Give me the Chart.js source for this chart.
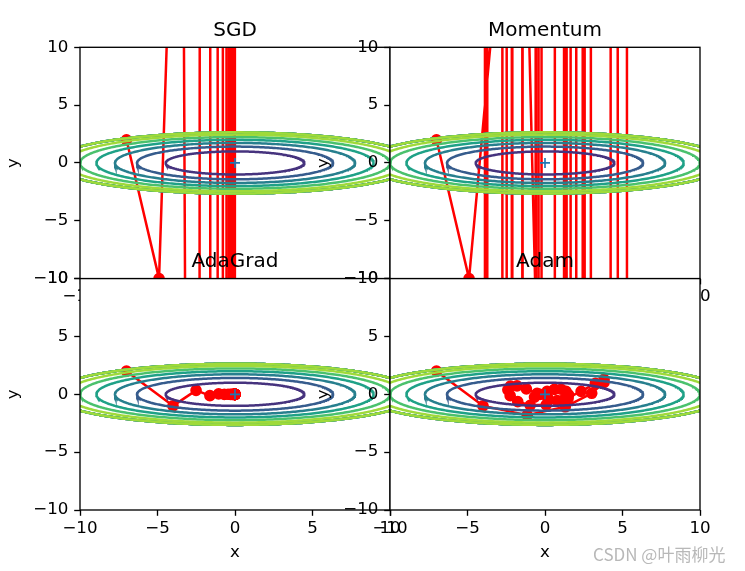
<!DOCTYPE html>
<html>
<head>
<meta charset="utf-8">
<script src="https://cdn.jsdelivr.net/npm/chart.js@4.4.1/dist/chart.umd.min.js"></script>
<style>
    body { margin: 0; background: #ffffff; }
    #wrap { position: relative; width: 745px; height: 571px; overflow: hidden; }
    #wrap canvas { position: absolute; left: 0; top: 0; }
    #mark { position: absolute; left: 593px; top: 541px; font: 17px "Noto Sans CJK SC", sans-serif; color: #b8b8b8; white-space: nowrap; }
</style>
</head>
<body>
<div id="wrap">
    <canvas id="sgd" width="745" height="571"></canvas>
    <canvas id="momentum" width="745" height="571"></canvas>
    <canvas id="adagrad" width="745" height="571"></canvas>
    <canvas id="adam" width="745" height="571"></canvas>
    <div id="mark">CSDN @叶雨柳光</div>
</div>
<script>
// trajectories (30 steps from (-7, 2))
const sgdX = [-7.0, -4.9, -3.43, -2.401, -1.6807, -1.1765, -0.8235, -0.5765, -0.4035, -0.2825,
    -0.1977, -0.1384, -0.0969, -0.0678, -0.0475, -0.0332, -0.0233, -0.0163, -0.0114, -0.0080,
    -0.0056, -0.0039, -0.0027, -0.0019, -0.0013, -0.0009, -0.0007, -0.0005, -0.0003, -0.0002];
const sgdY = [2, -10, 50, -250, 1250, -6250, 31250, -1.563e5, 7.813e5, -3.906e6,
    1.953e7, -9.766e7, 4.883e8, -2.441e9, 1.221e10, -6.104e10, 3.052e11, -1.526e12, 7.629e12, -3.815e13,
    1.907e14, -9.537e14, 4.768e15, -2.384e16, 1.192e17, -5.960e17, 2.980e18, -1.490e19, 7.451e19, -3.725e20];

const momentumX = [-7.0, -4.9, -1.54, 1.946, 4.4996, 5.448, 4.6671, 2.5642, -0.0977, -2.4641,
    -3.8546, -3.9497, -2.8504, -1.0059, 0.9559, 2.4348, 3.0353, 2.6652, 1.5325, 0.0534,
    -1.2939, -2.1182, -2.2247, -1.6531, -0.6427, 0.4594, 1.3135, 1.6882, 1.5189, 0.9109];
const momentumY = [2, -10, 39.2, -151.72, 586.772, -2269.2172, 8775.6957, -33938.057, 1.312e5, -5.076e5,
    1.963e6, -7.591e6, 2.936e7, -1.135e8, 4.391e8, -1.698e9, 6.567e9, -2.539e10, 9.821e10, -3.798e11,
    1.469e12, -5.680e12, 2.197e13, -8.495e13, 3.285e14, -1.271e15, 4.913e15, -1.900e16, 7.349e16, -2.842e17];

const adagradX = [-7.0, -4.0, -2.5116, -1.6193, -1.0543, -0.6892, -0.4513, -0.2957, -0.1938, -0.1270,
    -0.0833, -0.0546, -0.0358, -0.0235, -0.0154, -0.0101, -0.0066, -0.0043, -0.0028, -0.0019,
    -0.0012, -0.0008, -0.0005, -0.0003, -0.0002, -0.0001, -0.0001, -0.0001, 0, 0];
const adagradY = [2, -1, 0.3416, -0.1115, 0.0362, -0.0117, 0.0038, -0.0012, 0.0004, -0.0001,
    0, 0, 0, 0, 0, 0, 0, 0, 0, 0,
    0, 0, 0, 0, 0, 0, 0, 0, 0, 0];

const adamX = [-7.0, -4.0, -1.1469, 1.3067, 3.0145, 3.8073, 3.8098, 3.2489, 2.3291, 1.2211,
    0.0782, -0.9563, -1.7587, -2.247, -2.3952, -2.2282, -1.8049, -1.2036, -0.5117, 0.1801,
    0.7866, 1.2375, 1.4879, 1.5236, 1.3598, 1.0356, 0.606, 0.1351, -0.312, -0.677];
const adamY = [2, -1, -1.799, -1.0781, 0.0883, 1.0266, 1.2952, 0.9471, 0.26, -0.454,
    -0.9048, -0.9475, -0.6303, -0.1151, 0.3929, 0.7044, 0.7232, 0.4761, 0.0791, -0.3108,
    -0.5488, -0.5589, -0.3592, -0.0429, 0.2616, 0.4377, 0.4277, 0.2518, -0.0074, -0.2407];

// contours of f(x, y) = x^2/20 + y^2, values above 7 masked to 0
const contourLevels = [1, 2, 3, 4, 5, 6];
const contourColors = ['#46337e', '#365c8d', '#277f8e', '#1fa187', '#4ac16d', '#9fda3a'];
const maskLevel = 7;
const tickValues = [-10, -5, 0, 5, 10];

const FONT = 'DejaVu Sans';

// linear scale without the int16 pixel clamp, so far-off points keep their true slope
class FreeLinearScale extends Chart.LinearScale {
    getPixelForDecimal(decimal) {
        if (this._reversePixels) decimal = 1 - decimal;
        return this._startPixel + decimal * this._length;
    }
}
FreeLinearScale.id = 'freeLinear';
FreeLinearScale.defaults = Chart.LinearScale.defaults;
Chart.register(FreeLinearScale);

const panelBackground = {
    id: 'panelBackground',
    beforeDraw(chart) {
        const a = chart.chartArea, ctx = chart.ctx;
        ctx.save();
        ctx.fillStyle = '#ffffff';
        ctx.fillRect(a.left, a.top, a.right - a.left, a.bottom - a.top);
        ctx.restore();
    }
};

const panelFrame = {
    id: 'panelFrame',
    afterDatasetsDraw(chart) {
        const a = chart.chartArea, ctx = chart.ctx;
        ctx.save();
        ctx.strokeStyle = '#000000';
        ctx.lineWidth = 1.33;
        ctx.strokeRect(a.left, a.top, a.right - a.left, a.bottom - a.top);
        ctx.restore();
    }
};

function ellipse(level) {
    const pts = [];
    for (let i = 0; i <= 360; i++) {
        const t = i * Math.PI / 180;
        pts.push({ x: Math.sqrt(20 * level) * Math.cos(t), y: Math.sqrt(level) * Math.sin(t) });
    }
    return pts;
}

function fmtTick(value) {
    return String(value).replace('-', '\u2212');
}

const tickGrid = { drawOnChartArea: false, drawTicks: true, tickLength: 5.8, tickWidth: 1.33, tickColor: '#000000' };
const tickFont = { family: FONT, size: 16.7 };

const panels = [
    { id: 'sgd', title: 'SGD', xs: sgdX, ys: sgdY, left: 80, top: 47.3, right: 390, bottom: 278.6 },
    { id: 'momentum', title: 'Momentum', xs: momentumX, ys: momentumY, left: 390, top: 47.3, right: 700, bottom: 278.6 },
    { id: 'adagrad', title: 'AdaGrad', xs: adagradX, ys: adagradY, left: 80, top: 278.6, right: 390, bottom: 510 },
    { id: 'adam', title: 'Adam', xs: adamX, ys: adamY, left: 390, top: 278.6, right: 700, bottom: 510 }
];

panels.forEach(p => {
    const datasets = [{
        data: p.xs.map((x, i) => ({ x: x, y: p.ys[i] })),
        showLine: true,
        borderColor: 'red',
        backgroundColor: 'red',
        borderWidth: 2.5,
        borderJoinStyle: 'round',
        pointRadius: 5,
        pointBorderWidth: 1.67,
        pointBorderColor: 'red',
        pointBackgroundColor: 'red',
        clip: 0,
        order: 100
    }];

    contourLevels.forEach((level, i) => {
        [level, maskLevel].forEach((lv, j) => {
            datasets.push({
                data: ellipse(lv),
                showLine: true,
                borderColor: contourColors[i],
                borderWidth: 2.5,
                pointRadius: 0,
                clip: 0,
                order: 50 - 2 * i - j
            });
        });
    });

    datasets.push({
        data: [{ x: 0, y: 0 }],
        showLine: false,
        pointStyle: 'cross',
        pointRadius: 5,
        pointBorderWidth: 1.67,
        pointBorderColor: '#1f77b4',
        clip: 0,
        order: 0
    });

    new Chart(document.getElementById(p.id), {
        type: 'scatter',
        data: { datasets: datasets },
        options: {
            responsive: false,
            animation: false,
            events: [],
            layout: {
                padding: {
                    left: p.left - 80,
                    right: 745 - p.right,
                    top: p.top - 47.3,
                    bottom: 571 - p.bottom - 61
                }
            },
            scales: {
                x: {
                    type: 'linear',
                    position: 'bottom',
                    min: -10,
                    max: 10,
                    afterBuildTicks: s => { s.ticks = tickValues.map(v => ({ value: v })); },
                    afterFit: s => { s.height = 61; s.paddingLeft = 0; s.paddingRight = 0; },
                    grid: tickGrid,
                    border: { display: false },
                    ticks: { padding: 2.5, color: '#000000', font: tickFont, maxRotation: 0, callback: fmtTick },
                    title: { display: true, text: 'x', color: '#000000', font: tickFont, padding: { top: 0, bottom: 8.4 } }
                },
                top: {
                    type: 'linear',
                    position: 'top',
                    min: -10,
                    max: 10,
                    afterFit: s => { s.height = 47.3; s.paddingLeft = 0; s.paddingRight = 0; },
                    grid: { display: false },
                    border: { display: false },
                    ticks: { display: false },
                    title: { display: true, text: p.title, color: '#000000', font: { family: FONT, size: 20 }, padding: { top: 18.4, bottom: 0 } }
                },
                y: {
                    type: 'freeLinear',
                    position: 'left',
                    min: -10,
                    max: 10,
                    afterBuildTicks: s => { s.ticks = tickValues.map(v => ({ value: v })); },
                    afterFit: s => { s.width = 80; s.paddingTop = 0; s.paddingBottom = 0; },
                    grid: tickGrid,
                    border: { display: false },
                    ticks: { padding: 5.8, color: '#000000', font: tickFont, callback: fmtTick },
                    title: { display: true, text: 'y', color: '#000000', font: tickFont, padding: { top: 3.7, bottom: 0 } }
                }
            },
            plugins: {
                legend: { display: false },
                tooltip: { enabled: false }
            }
        },
        plugins: [panelBackground, panelFrame]
    });
});
</script>
</body>
</html>
